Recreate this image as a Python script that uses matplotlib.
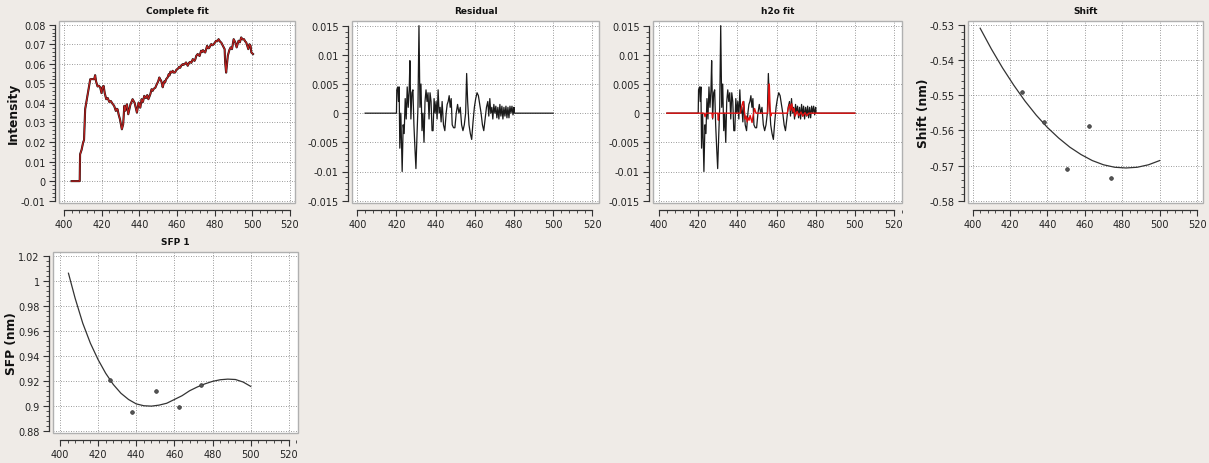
import matplotlib
matplotlib.use("Agg")
import matplotlib.pyplot as plt
from matplotlib.ticker import AutoMinorLocator, FuncFormatter
from matplotlib.patches import Rectangle

# ---------------- data ----------------
spec_x = [404.0, 408.3, 408.5, 409.3, 410.1, 410.6, 411.2, 412.4, 413.2, 413.9, 415.0, 416.0, 416.5,
          417.0, 417.8, 418.5, 419.2, 419.9, 420.4, 421.0, 421.6, 422.4, 423.2, 424.0, 424.8, 425.8,
          426.6, 427.5, 428.0, 428.4, 429.0, 429.7, 430.7, 431.4, 432.0, 432.5, 432.9, 433.4, 434.1,
          435.2, 436.4, 437.5, 438.7, 439.6, 440.5, 441.2, 441.9, 442.6, 443.5, 444.2, 444.8, 445.8,
          446.5, 447.1, 447.6, 448.5, 449.0, 449.5, 450.0, 450.6, 451.1, 451.5, 452.0, 452.4, 453.2,
          453.7, 454.2, 455.0, 455.6, 456.0, 456.5, 457.2, 457.7, 458.3, 459.0, 459.7, 460.5, 461.2,
          461.7, 462.2, 463.0, 463.5, 464.2, 464.8, 465.7, 466.4, 467.0, 467.6, 468.4, 469.3, 469.8,
          470.2, 471.0, 471.5, 472.0, 472.8, 473.3, 473.8, 474.4, 475.0, 475.5, 476.0, 476.5, 477.0,
          477.6, 478.2, 478.8, 479.5, 480.2, 480.8, 481.4, 482.1, 483.0, 483.5, 484.4, 485.3, 485.6,
          486.1, 487.0, 487.8, 488.5, 489.2, 490.1, 491.0, 491.7, 492.7, 493.4, 494.1, 494.8, 495.6,
          496.2, 496.8, 497.4, 497.9, 498.5, 499.1, 499.5, 500.4]
spec_y = [0.0, 0.0, 0.0137, 0.0160, 0.0197, 0.0210, 0.0368, 0.0436, 0.0480, 0.0521, 0.0522, 0.0521, 0.0542,
          0.0510, 0.0484, 0.0488, 0.0479, 0.0450, 0.0480, 0.0487, 0.0450, 0.0419, 0.0425, 0.0405, 0.0410, 0.0395,
          0.0385, 0.0359, 0.0370, 0.0368, 0.0340, 0.0316, 0.0265, 0.0291, 0.0385, 0.0360, 0.0380, 0.0393, 0.0342,
          0.0390, 0.0419, 0.0400, 0.0350, 0.0402, 0.0376, 0.0419, 0.0405, 0.0436, 0.0425, 0.0440, 0.0419, 0.0444,
          0.0470, 0.0462, 0.0472, 0.0478, 0.0490, 0.0500, 0.0510, 0.0530, 0.0520, 0.0515, 0.0500, 0.0480, 0.0510,
          0.0505, 0.0521, 0.0530, 0.0547, 0.0540, 0.0560, 0.0555, 0.0564, 0.0555, 0.0556, 0.0570, 0.0575, 0.0585,
          0.0580, 0.0590, 0.0598, 0.0595, 0.0600, 0.0607, 0.0590, 0.0605, 0.0610, 0.0605, 0.0624, 0.0615, 0.0625,
          0.0640, 0.0650, 0.0645, 0.0640, 0.0667, 0.0660, 0.0670, 0.0662, 0.0658, 0.0675, 0.0692, 0.0680, 0.0680,
          0.0690, 0.0701, 0.0695, 0.0700, 0.0710, 0.0718, 0.0715, 0.0726, 0.0712, 0.0709, 0.0692, 0.0675, 0.0607,
          0.0555, 0.0641, 0.0670, 0.0684, 0.0675, 0.0726, 0.0709, 0.0684, 0.0718, 0.0710, 0.0735, 0.0725, 0.0726,
          0.0715, 0.0709, 0.0690, 0.0675, 0.0700, 0.0692, 0.0658, 0.0650]

res_x = [404.0, 420.0, 420.17, 420.69, 421.03, 421.37, 421.71, 422.23, 422.91, 423.43, 423.94, 424.46,
         424.97, 425.49, 426.0, 426.51, 426.86, 427.37, 427.89, 428.4, 428.91, 429.43, 429.94, 430.46,
         430.97, 431.49, 432.0, 432.51, 433.03, 433.54, 434.06, 434.57, 435.09, 435.6, 436.11, 436.63,
         437.14, 437.66, 438.17, 438.69, 439.2, 439.71, 440.23, 440.74, 441.26, 441.77, 442.29, 442.8,
         443.31, 444.0, 444.69, 445.37, 445.89, 446.4, 446.91, 447.43, 447.94, 448.46, 449.14, 449.83,
         450.51, 451.2, 451.89, 452.57, 453.26, 453.94, 454.63, 455.31, 455.83, 456.34, 457.03, 457.71,
         458.4, 459.09, 459.77, 460.46, 461.14, 461.83, 462.51, 463.2, 463.89, 464.57, 465.26, 465.94,
         466.63, 467.14, 467.66, 468.17, 468.69, 469.2, 469.71, 470.23, 470.74, 471.26, 471.77, 472.29,
         472.8, 473.31, 473.83, 474.34, 474.86, 475.37, 475.89, 476.4, 476.91, 477.43, 477.94, 478.46,
         478.97, 479.49, 480.0, 480.2, 500.0]
res_y = [0.0, 0.0, 0.004, 0.0045, 0.002, 0.0045, -0.006, 0.0, -0.01, -0.002, -0.0035, 0.0025,
         -0.001, 0.0045, 0.001, 0.004, 0.009, -0.001, 0.0035, 0.004, -0.002, -0.006, -0.0095, -0.004,
         0.001, 0.015, 0.001, 0.005, -0.003, 0.0, -0.005, 0.002, 0.004, 0.002, 0.0035, -0.001,
         0.0035, 0.002, -0.003, -0.003, 0.0025, 0.0, 0.002, -0.001, 0.004, 0.0, 0.001, -0.0015,
         0.002, -0.002, -0.003, 0.0, 0.0015, 0.002, 0.003, 0.001, 0.0025, -0.002, -0.0025, -0.0025,
         0.0, 0.0015, 0.0, 0.001, -0.002, -0.003, -0.002, 0.0, 0.0068, 0.002, -0.002, -0.0035,
         -0.0045, -0.0015, 0.001, 0.0025, 0.0035, 0.003, 0.0015, 0.0, -0.002, -0.003, -0.001, 0.001,
         0.002, -0.0005, 0.0025, 0.0, 0.001, -0.001, 0.0015, 0.0, 0.0012, -0.0008, 0.001, -0.001,
         0.0015, -0.0005, 0.0012, -0.001, 0.001, -0.0005, 0.0012, -0.0008, 0.001, -0.0008, 0.0012, 0.0,
         0.0012, -0.0003, 0.001, 0.0, 0.0]

h2o_x = [404.0, 423.0, 423.5, 424.0, 427.0, 427.3, 427.6, 430.0, 430.3, 430.6, 441.5, 442.0, 442.5,
         443.0, 443.5, 444.0, 444.5, 445.0, 445.5, 446.0, 446.5, 447.0, 447.5, 448.0, 448.8, 449.5,
         455.5, 456.0, 456.3, 456.7, 457.0, 457.5, 465.5, 466.0, 466.7, 467.2, 467.8, 468.5, 469.0,
         469.5, 470.5, 471.5, 472.5, 473.5, 474.5, 475.5, 476.5, 500.0]
h2o_y = [0.0, 0.0, -0.0006, 0.0, 0.0, -0.0008, 0.0, 0.0, -0.0012, 0.0, 0.0, 0.0008, 0.0015,
         0.002, 0.0005, -0.001, -0.0005, -0.0015, -0.0008, -0.0012, -0.0004, -0.001, -0.0016, -0.0005, 0.0008, 0.0,
         0.0, 0.003, 0.005, 0.001, -0.0005, 0.0, 0.0, 0.0008, 0.0015, 0.0005, 0.0016, 0.0002, 0.0008,
         -0.0005, 0.0003, -0.0004, 0.0002, -0.0005, 0.0001, -0.0004, 0.0, 0.0]

win_x = [426.3, 437.9, 450.2, 462.2, 474.2]
shift_pts = [-0.5492, -0.5577, -0.5710, -0.5587, -0.5736]
shift_fit_x = [404, 410, 416, 422, 428, 434, 440, 446, 452, 458, 464, 470, 476, 482, 488, 494, 500]
shift_fit_y = [-0.5310, -0.5369, -0.5423, -0.5472, -0.5517, -0.5557, -0.5592, -0.5622, -0.5648,
               -0.5669, -0.5686, -0.5698, -0.5705, -0.5707, -0.5705, -0.5698, -0.5686]

sfp_pts = [0.9208, 0.8947, 0.9115, 0.8987, 0.9168]
sfp_fit_x = [404.5, 408, 412, 416, 420, 424, 428, 432, 436, 440, 444, 448, 452, 456, 460, 464, 468,
             472, 476, 480, 484, 488, 492, 496, 500]
sfp_fit_y = [1.006, 0.986, 0.966, 0.950, 0.937, 0.926, 0.917, 0.910, 0.905, 0.9015, 0.900, 0.8997,
             0.9005, 0.902, 0.905, 0.908, 0.912, 0.915, 0.9175, 0.9195, 0.9208, 0.9213, 0.921, 0.919, 0.9155]

x_ticks = [400, 420, 440, 460, 480, 500, 520]
int_ticks = [-0.01, 0, 0.01, 0.02, 0.03, 0.04, 0.05, 0.06, 0.07, 0.08]
res_ticks = [-0.015, -0.01, -0.005, 0, 0.005, 0.01, 0.015]
shift_ticks = [-0.58, -0.57, -0.56, -0.55, -0.54, -0.53]
sfp_ticks = [0.88, 0.9, 0.92, 0.94, 0.96, 0.98, 1.0, 1.02]

# ---------------- figure ----------------
W, H = 1209, 464
BG = '#efebe7'
fig = plt.figure(figsize=(W / 100, H / 100), dpi=100, facecolor=BG)


def fmt(v, pos=None):
    if abs(v) < 1e-12:
        return '0'
    return '%g' % round(v, 6)


def make_axes(l, r, t, b, xlim, ylim, yticks, title, ylabel=None, ylab_x=None):
    ax = fig.add_axes([l / W, 1 - b / H, (r - l) / W, (b - t) / H])
    ax.set_facecolor('white')
    ax.set_xlim(*xlim)
    ax.set_ylim(*ylim)
    ax.set_xticks(x_ticks)
    ax.set_yticks(yticks)
    ax.xaxis.set_minor_locator(AutoMinorLocator(5))
    ax.yaxis.set_minor_locator(AutoMinorLocator(5))
    ax.xaxis.set_major_formatter(FuncFormatter(fmt))
    ax.yaxis.set_major_formatter(FuncFormatter(fmt))
    ax.grid(True, which='major', linestyle=(0, (1, 2)), color='#7a7a7a', linewidth=0.6)
    ax.set_axisbelow(True)
    for s in ['top', 'right']:
        ax.spines[s].set_visible(False)
    ax.spines['left'].set_position(('outward', 3))
    ax.spines['left'].set_bounds(yticks[0], yticks[-1])
    ax.spines['bottom'].set_position(('outward', 5))
    ax.spines['bottom'].set_bounds(400, 520)
    for s in ['left', 'bottom']:
        ax.spines[s].set_color('#333333')
        ax.spines[s].set_linewidth(0.9)
    ax.tick_params(which='major', direction='out', length=4.5, width=0.8, colors='#333333',
                   labelsize=7, labelcolor='#222222', pad=2)
    ax.tick_params(which='minor', direction='out', length=2.2, width=0.6, colors='#333333')
    ax.add_patch(Rectangle((0, 0), 1, 1, transform=ax.transAxes, fill=False,
                           edgecolor='#b0b0b0', linewidth=1.0, clip_on=False, zorder=5))
    fig.text((l + r) / 2 / W, 1 - (t - 10) / H, title, ha='center', va='center',
             fontsize=6.5, fontweight='bold', color='#111111')
    if ylabel:
        fig.text(ylab_x / W, 1 - (t + b) / 2 / H, ylabel, ha='center', va='center',
                 rotation=90, fontsize=8.8, fontweight='bold', color='#111111')
    return ax


ax1 = make_axes(59, 295, 22, 204, (397.3, 522.7), (-0.0112, 0.0819), int_ticks,
                'Complete fit', 'Intensity', 13)
ax1.plot(spec_x, spec_y, color='#111111', lw=1.5, zorder=3)
ax1.plot(spec_x, spec_y, color='#c0201e', lw=0.9, zorder=4)

ax2 = make_axes(352, 599, 22, 204, (397.3, 523.4), (-0.0154, 0.0158), res_ticks, 'Residual')
ax2.plot(res_x, res_y, color='#1a1a1a', lw=0.9, zorder=3)

ax3 = make_axes(653, 902, 22, 204, (396.9, 524.1), (-0.0154, 0.0158), res_ticks, 'h2o fit')
ax3.plot(res_x, res_y, color='#1a1a1a', lw=0.9, zorder=3)
ax3.plot(h2o_x, h2o_y, color='#e01010', lw=1.0, zorder=4)

ax4 = make_axes(968, 1203, 22, 204, (397.5, 523.2), (-0.58065, -0.52895), shift_ticks,
                'Shift', 'Shift (nm)', 924)
ax4.plot(shift_fit_x, shift_fit_y, color='#333333', lw=0.9, zorder=3)
ax4.scatter(win_x, shift_pts, s=7, color='#555555', edgecolors='#333333', linewidths=0.5, zorder=4)

ax5 = make_axes(53, 298, 253, 434, (396.4, 524.8), (0.8782, 1.023), sfp_ticks,
                'SFP 1', 'SFP (nm)', 11)
ax5.plot(sfp_fit_x, sfp_fit_y, color='#333333', lw=0.9, zorder=3)
ax5.scatter(win_x, sfp_pts, s=7, color='#555555', edgecolors='#333333', linewidths=0.5, zorder=4)

fig.savefig('out.png', dpi=100, facecolor=BG)
